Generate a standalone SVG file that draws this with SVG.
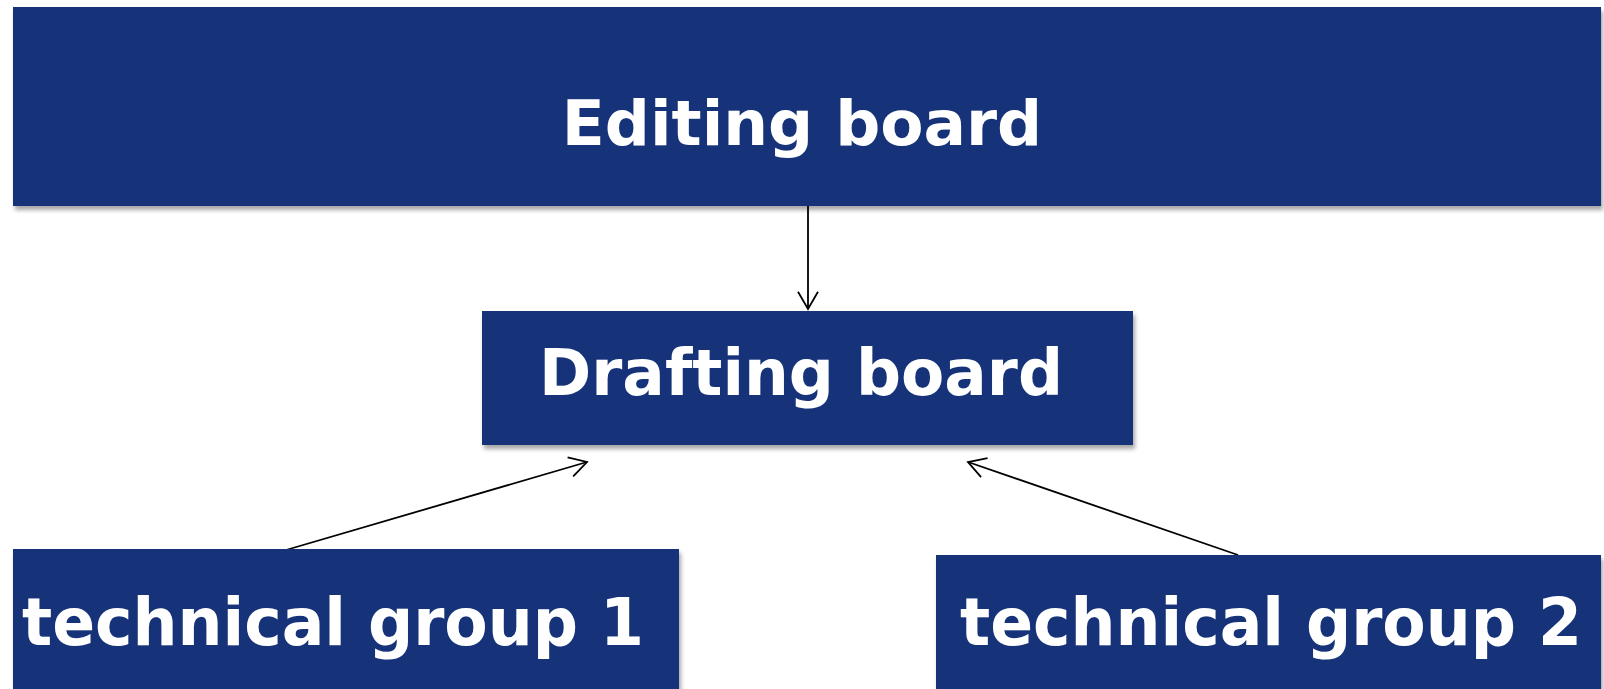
<svg xmlns="http://www.w3.org/2000/svg" width="1604" height="689" viewBox="0 0 1604 689">
  <style>
    .box { fill: #143179; filter: url(#shadow); }
    .label { fill: #ffffff; font-family: "DejaVu Sans", Verdana, sans-serif; font-weight: bold; font-variant-ligatures: none; font-feature-settings: "liga" 0, "clig" 0; }
    .conn { stroke: #000000; stroke-width: 1.8; fill: none; marker-end: url(#arrow); }
  </style>
  <defs>
    <filter id="shadow" x="-5%" y="-10%" width="110%" height="130%">
      <feDropShadow dx="2" dy="4" stdDeviation="2" flood-color="#000000" flood-opacity="0.35"/>
    </filter>
    <marker id="arrow" markerUnits="userSpaceOnUse" markerWidth="40" markerHeight="40" viewBox="-20 -20 40 40" refX="0" refY="0" orient="auto" overflow="visible">
      <path d="M-17.3,-10 L0,0 L-17.3,10" fill="none" stroke="#000000" stroke-width="1.8"/>
    </marker>
  </defs>

  <g id="connectors">
    <line class="conn" x1="808" y1="206" x2="808" y2="309"/>
    <line class="conn" x1="286" y1="550" x2="587" y2="462"/>
    <line class="conn" x1="1238" y1="555" x2="968" y2="462"/>
  </g>

  <g id="editing-board">
    <rect class="box" x="13" y="7" width="1588" height="199"/>
    <text class="label" x="802" y="145" font-size="63" text-anchor="middle">Editing board</text>
  </g>

  <g id="drafting-board">
    <rect class="box" x="482" y="311" width="651" height="134"/>
    <text class="label" x="801" y="395" font-size="64" text-anchor="middle" textLength="524" lengthAdjust="spacingAndGlyphs">Draf<tspan>ting board</tspan></text>
  </g>

  <g id="technical-group-1">
    <rect class="box" x="13" y="549" width="666" height="150"/>
    <text class="label" x="22" y="645" font-size="66" textLength="622" lengthAdjust="spacingAndGlyphs">technical group 1</text>
  </g>

  <g id="technical-group-2">
    <rect class="box" x="936" y="555" width="665" height="144"/>
    <text class="label" x="960" y="645" font-size="66" textLength="622" lengthAdjust="spacingAndGlyphs">technical group 2</text>
  </g>
</svg>
